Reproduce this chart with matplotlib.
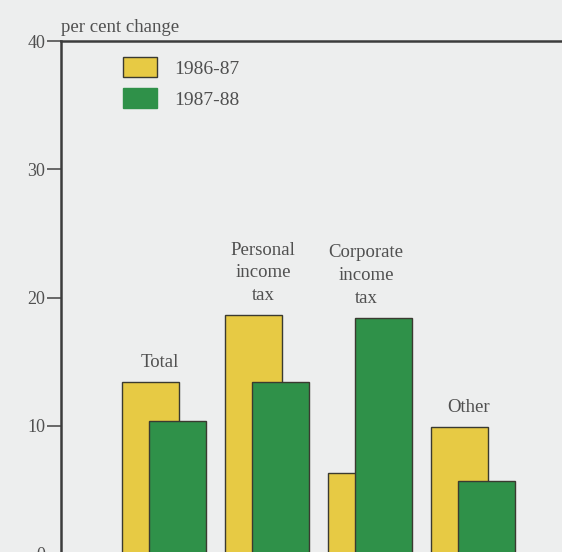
import matplotlib

matplotlib.use("Agg")

import matplotlib.pyplot as plt  # noqa: E402
import numpy as np  # noqa: E402
from matplotlib.patches import Patch  # noqa: E402

categories = ["Total", "Personal\nincome\ntax", "Corporate\nincome\ntax", "Other"]
series_names = ["1986-87", "1987-88"]
change_8687 = [13.4, 18.6, 6.3, 9.9]
change_8788 = [10.4, 13.4, 18.4, 5.7]
y_ticks = [0, 10, 20, 30, 40]

_YELLOW = "#E7CA44"
_GREEN = "#2F9149"
_EDGE = "#3a3a30"
_BG = "#EDEEEE"
_INK = "#505050"

plt.rcParams["font.family"] = ["Liberation Serif", "DejaVu Serif"]

fig = plt.figure(figsize=(5.62, 5.52), dpi=100, facecolor=_BG)
# axes run slightly past the right and bottom edges, as in the cropped original
ax = fig.add_axes([61 / 562, -2 / 552, 512 / 562, 513 / 552], facecolor=_BG)

x = np.arange(len(categories))
width = 0.55
offset = 0.26
ax.bar(x - offset / 2, change_8687, width, color=_YELLOW, edgecolor=_EDGE, lw=1.0, zorder=2)
ax.bar(x + offset / 2, change_8788, width, color=_GREEN, edgecolor=_EDGE, lw=1.0, zorder=3)

for xi, label, a, b in zip(x, categories, change_8687, change_8788):
    ax.annotate(
        label,
        xy=(xi - 0.04, max(a, b)),
        xytext=(0, 8),
        textcoords="offset points",
        ha="center",
        va="bottom",
        fontsize=13.5,
        color=_INK,
        linespacing=1.45,
    )

ax.set_xlim(-1.0, 3.97)
ax.set_ylim(0, 40)
ax.set_yticks(y_ticks)
ax.set_xticks([])
ax.tick_params(axis="y", length=10, width=1.2, color=_INK, labelcolor=_INK, labelsize=13, pad=1.5)
for side in ("left", "top"):
    ax.spines[side].set_linewidth(1.8)
    ax.spines[side].set_color("#3c3c3c")
ax.spines["right"].set_visible(False)
ax.spines["bottom"].set_linewidth(1.8)

ax.text(0.0, 1.01, "per cent change", transform=ax.transAxes, ha="left", va="bottom",
        fontsize=13.5, color=_INK)

handles = [
    Patch(facecolor=_YELLOW, edgecolor=_EDGE, lw=1.0),
    Patch(facecolor=_GREEN, edgecolor=_GREEN, lw=1.0),
]
ax.legend(
    handles,
    series_names,
    loc="upper left",
    bbox_to_anchor=(123 / 562, 1 - 57 / 552),
    bbox_transform=fig.transFigure,
    frameon=False,
    fontsize=14,
    handlelength=1.75,
    handleheight=1.2,
    handletextpad=0.9,
    labelspacing=0.55,
    borderpad=0,
    borderaxespad=0,
    labelcolor=_INK,
)

fig.savefig("out.png", dpi=100, facecolor=_BG)
plt.close(fig)
